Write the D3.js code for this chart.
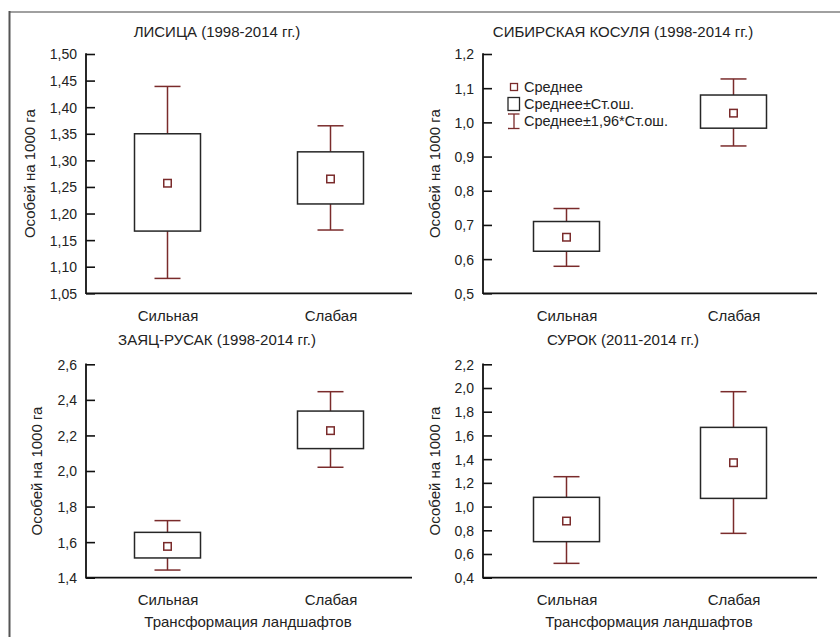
<!DOCTYPE html>
<html><head><meta charset="utf-8">
<script src="https://cdn.jsdelivr.net/npm/d3@7"></script>
<style>body{margin:0;background:#fff}svg{display:block;font-family:"Liberation Sans",Arial,sans-serif}</style>
</head><body><svg id="c" width="840" height="637"></svg>
<script>
const categories = ["Сильная", "Слабая"];
const titles = ["ЛИСИЦА (1998-2014 гг.)", "СИБИРСКАЯ КОСУЛЯ (1998-2014 гг.)", "ЗАЯЦ-РУСАК (1998-2014 гг.)", "СУРОК (2011-2014 гг.)"];
const yLabel = "Особей на 1000 га";
const xLabel = "Трансформация ландшафтов";
const legendLabels = ["Среднее", "Среднее±Ст.ош.", "Среднее±1,96*Ст.ош."];
// per panel, per category
const means   = [[1.257, 1.265], [0.664, 1.027], [1.576, 2.227], [0.878, 1.370]];
const seLow   = [[1.167, 1.218], [0.623, 0.983], [1.511, 2.126], [0.704, 1.069]];
const seHigh  = [[1.350, 1.316], [0.710, 1.080], [1.655, 2.337], [1.078, 1.668]];
const ciLow   = [[1.078, 1.169], [0.579, 0.931], [1.443, 2.021], [0.521, 0.774]];
const ciHigh  = [[1.439, 1.365], [0.748, 1.127], [1.721, 2.446], [1.252, 1.969]];
const yTicks = [
  [1.05, 1.10, 1.15, 1.20, 1.25, 1.30, 1.35, 1.40, 1.45, 1.50],
  [0.5, 0.6, 0.7, 0.8, 0.9, 1.0, 1.1, 1.2],
  [1.4, 1.6, 1.8, 2.0, 2.2, 2.4, 2.6],
  [0.4, 0.6, 0.8, 1.0, 1.2, 1.4, 1.6, 1.8, 2.0, 2.2]
];
const tickDecimals = [2, 1, 1, 1];

const layout = [
  {x0: 86, x1: 412, y0: 54, y1: 293.3, titleX: 217, titleY: 37, ylX: 30, catY: 316, showX: false},
  {x0: 483, x1: 817, y0: 54, y1: 293.3, titleX: 623, titleY: 37, ylX: 435, catY: 316, showX: false, legend: true},
  {x0: 86, x1: 412, y0: 364.3, y1: 577.7, titleX: 217, titleY: 345, ylX: 37, catY: 600, showX: true},
  {x0: 483, x1: 817, y0: 364.3, y1: 577.7, titleX: 623, titleY: 345, ylX: 435, catY: 600, showX: true}
];
const boxColor = "#262626", whiskColor = "#7a2b2b", textColor = "#222";

const svg = d3.select("#c");
// frame
svg.append("line").attr("x1", 9).attr("x2", 840).attr("y1", 12).attr("y2", 12).attr("stroke", "#a0a0a0").attr("stroke-width", 2);
svg.append("line").attr("x1", 9.5).attr("x2", 9.5).attr("y1", 11).attr("y2", 637).attr("stroke", "#555").attr("stroke-width", 2);

layout.forEach((L, i) => {
  const g = svg.append("g");
  const ticks = yTicks[i];
  const y = d3.scaleLinear().domain([ticks[0], ticks[ticks.length - 1]]).range([L.y1, L.y0]);
  const x = d3.scalePoint().domain(categories).range([L.x0, L.x1]).padding(0.5);
  const fmt = v => d3.format("." + tickDecimals[i] + "f")(v).replace(".", ",");

  const ax = g.append("g").attr("transform", `translate(${L.x0},0)`)
    .call(d3.axisRight(y).tickValues(ticks).tickSize(9).tickFormat(fmt));
  ax.select(".domain").remove();
  ax.selectAll(".tick line").attr("stroke", "#111").attr("stroke-width", 1.6);
  ax.selectAll(".tick text").attr("x", -9).attr("text-anchor", "end").attr("dy", "0.35em")
    .attr("font-size", 14).attr("fill", textColor);
  g.append("line").attr("x1", L.x0).attr("x2", L.x0).attr("y1", L.y0 - 0.8).attr("y2", L.y1 + 0.8)
    .attr("stroke", "#111").attr("stroke-width", 1.8);
  g.append("line").attr("x1", L.x0).attr("x2", L.x1).attr("y1", L.y1).attr("y2", L.y1)
    .attr("stroke", "#111").attr("stroke-width", 1.8);

  const xa = g.append("g").attr("transform", `translate(0,${L.y1})`)
    .call(d3.axisBottom(x).tickSize(0).tickPadding(0));
  xa.select(".domain").remove();
  xa.selectAll(".tick text").attr("y", L.catY - L.y1).attr("dy", "0.35em").attr("font-size", 15).attr("fill", textColor);

  // title
  g.append("text").attr("x", L.titleX).attr("y", L.titleY).attr("text-anchor", "middle")
    .attr("font-size", 15).attr("fill", textColor).text(titles[i]);
  // y label
  g.append("text").attr("transform", `translate(${L.ylX},${(L.y0 + L.y1) / 2}) rotate(-90)`)
    .attr("text-anchor", "middle").attr("dy", "0.35em").attr("font-size", 15).attr("fill", textColor).text(yLabel);
  if (L.showX) {
    g.append("text").attr("x", (L.x0 + L.x1) / 2 - 1).attr("y", 627)
      .attr("text-anchor", "middle").attr("font-size", 15).attr("fill", textColor).text(xLabel);
  }

  const boxW = 66, capW = 26, mk = 7.5;
  categories.forEach((c, j) => {
    const cx = x(c);
    // whiskers
    g.append("line").attr("x1", cx).attr("x2", cx).attr("y1", y(ciHigh[i][j])).attr("y2", y(seHigh[i][j]))
      .attr("stroke", whiskColor).attr("stroke-width", 1.5);
    g.append("line").attr("x1", cx).attr("x2", cx).attr("y1", y(seLow[i][j])).attr("y2", y(ciLow[i][j]))
      .attr("stroke", whiskColor).attr("stroke-width", 1.5);
    [ciHigh[i][j], ciLow[i][j]].forEach(v => {
      g.append("line").attr("x1", cx - capW / 2).attr("x2", cx + capW / 2).attr("y1", y(v)).attr("y2", y(v))
        .attr("stroke", whiskColor).attr("stroke-width", 1.5);
    });
    g.append("rect").attr("x", cx - boxW / 2).attr("y", y(seHigh[i][j]))
      .attr("width", boxW).attr("height", y(seLow[i][j]) - y(seHigh[i][j]))
      .attr("fill", "#fff").attr("stroke", boxColor).attr("stroke-width", 1.5);
    g.append("rect").attr("x", cx - mk / 2).attr("y", y(means[i][j]) - mk / 2)
      .attr("width", mk).attr("height", mk).attr("fill", "#fff").attr("stroke", whiskColor).attr("stroke-width", 1.5);
  });

  if (L.legend) {
    const lx = 514, ly = 87;
    const lg = g.append("g");
    lg.append("rect").attr("x", lx - 3.5).attr("y", ly - 3.5).attr("width", 7).attr("height", 7)
      .attr("fill", "#fff").attr("stroke", whiskColor).attr("stroke-width", 1.3);
    lg.append("rect").attr("x", lx - 6).attr("y", 97.5).attr("width", 11.5).attr("height", 13)
      .attr("fill", "#fff").attr("stroke", boxColor).attr("stroke-width", 1.3);
    lg.append("line").attr("x1", lx).attr("x2", lx).attr("y1", 114).attr("y2", 128.5).attr("stroke", whiskColor).attr("stroke-width", 1.3);
    [114, 128.5].forEach(yy => lg.append("line").attr("x1", lx - 6).attr("x2", lx + 5.5).attr("y1", yy).attr("y2", yy).attr("stroke", whiskColor).attr("stroke-width", 1.3));
    legendLabels.forEach((t, k) => {
      lg.append("text").attr("x", 524).attr("y", [87, 104, 121][k]).attr("dy", "0.35em")
        .attr("font-size", 14.5).attr("fill", textColor).text(t);
    });
  }
});
</script></body></html>
